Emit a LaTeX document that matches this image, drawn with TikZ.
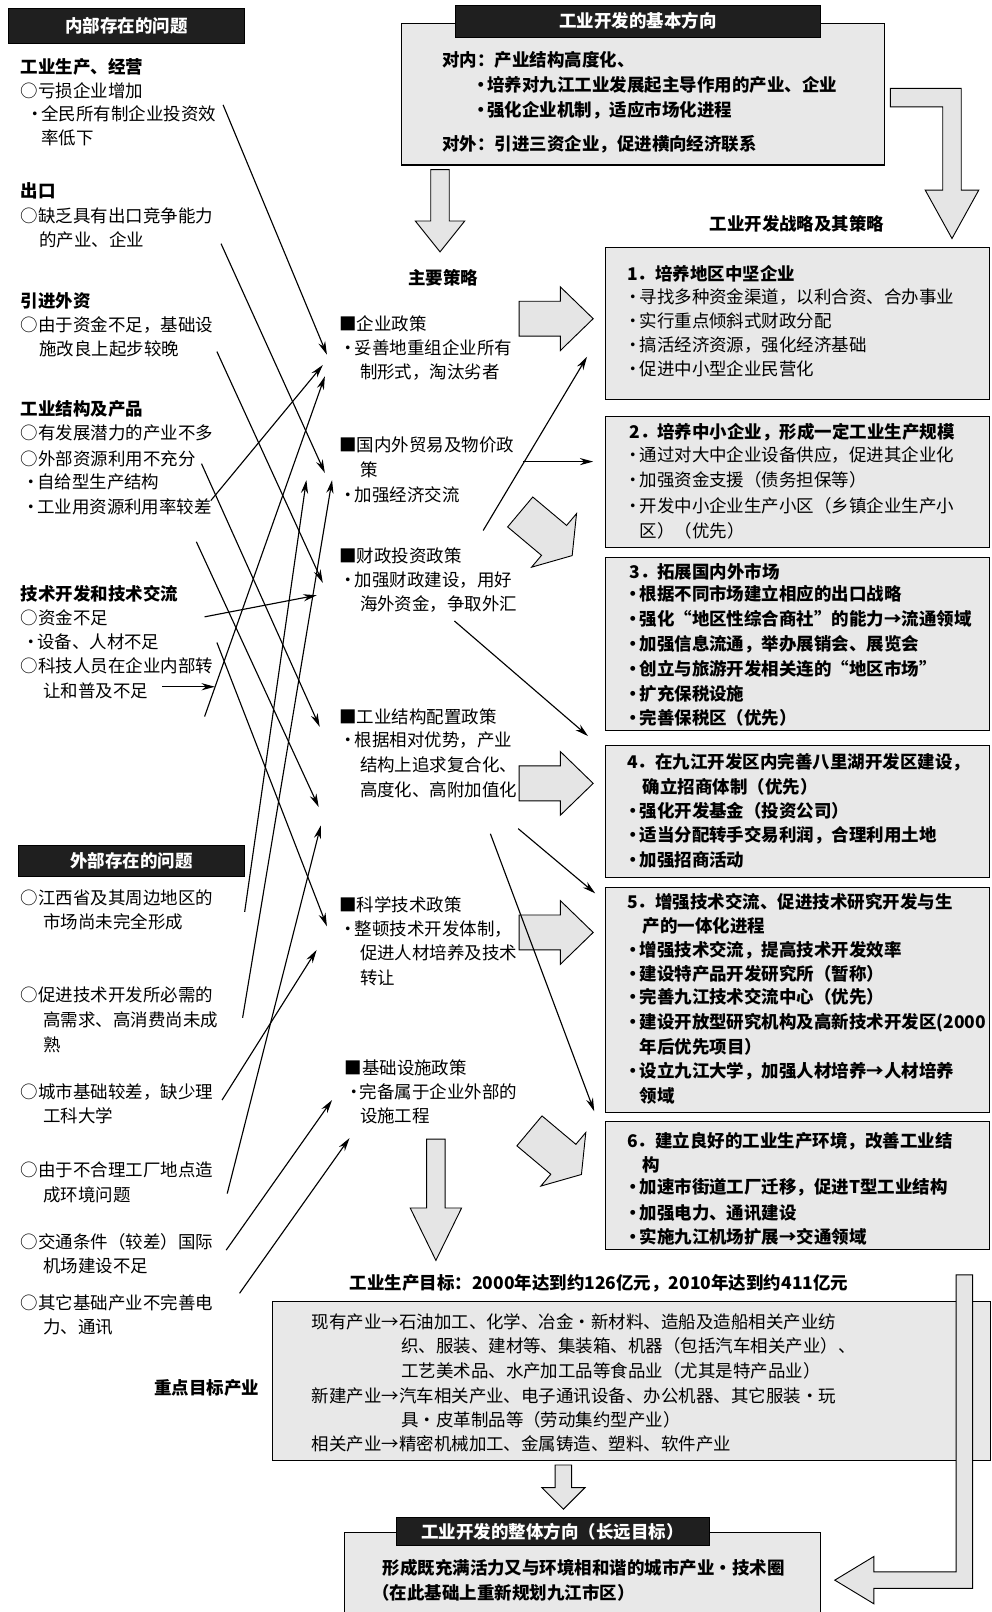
\documentclass[tikz,border=0pt]{standalone}
\usepackage{fontspec}
\newfontfamily\cjk{Noto Sans CJK SC}
\usetikzlibrary{arrows.meta}
\newcommand\bul{\makebox[0.7em][c]{・}}
\newcommand\blockarrow[7]{\draw[blk, shift={(#1,#2)}, rotate=#3] (0,-#6) -- (#5,-#6) -- (#5,-#7) -- (#4,0) -- (#5,#7) -- (#5,#6) -- (0,#6) -- cycle;}
\tikzset{
 txt/.style={anchor=west, inner sep=0pt, font=\cjk\fontsize{17}{20}\selectfont},
 btxt/.style={txt, font=\cjk\bfseries\fontsize{17}{20}\selectfont},
 hdr/.style={fill=black!88, draw=black, text=white, inner sep=0pt, font=\cjk\bfseries\fontsize{17}{20}\selectfont},
 panel/.style={draw=black, line width=1pt, fill=black!9, inner sep=0pt},
 blk/.style={draw=black, line width=0.9pt, fill=black!10, line join=miter},
 con/.style={line width=1.1pt, -{Stealth[length=13pt,width=7pt]}},
 ln/.style={line width=1.1pt}
}
\begin{document}
\begin{tikzpicture}[x=1pt,y=-1pt]
\useasboundingbox (0,0) rectangle (964,1568);
\fill[white] (0,0) rectangle (964,1568);

% ---------------- left column: internal problems
\node[hdr, minimum width=230pt, minimum height=34pt] (hIn) at (123,25) {内部存在的问题};
\node[btxt] (p1h) at (20,65) {工业生产、经营};
\node[txt] (p1a) at (20,88) {○亏损企业增加};
\node[txt] (p1b) at (28,111) {\bul 全民所有制企业投资效};
\node[txt] (p1c) at (40,134) {率低下};
\node[btxt] (p2h) at (20,186) {出口};
\node[txt] (p2a) at (20,210) {○缺乏具有出口竞争能力};
\node[txt] (p2b) at (38,233) {的产业、企业};
\node[btxt] (p3h) at (20,293) {引进外资};
\node[txt] (p3a) at (20,316) {○由于资金不足，基础设};
\node[txt] (p3b) at (38,339) {施改良上起步较晚};
\node[btxt] (p4h) at (20,398) {工业结构及产品};
\node[txt] (p4a) at (20,421) {○有发展潜力的产业不多};
\node[txt] (p4b) at (20,446) {○外部资源利用不充分};
\node[txt] (p4c) at (24,469) {\bul 自给型生产结构};
\node[txt] (p4d) at (24,493) {\bul 工业用资源利用率较差};
\node[btxt] (p5h) at (20,578) {技术开发和技术交流};
\node[txt] (p5a) at (20,601) {○资金不足};
\node[txt] (p5b) at (24,624) {\bul 设备、人材不足};
\node[txt] (p5c) at (20,648) {○科技人员在企业内部转};
\node[txt] (p5d) at (42,672) {让和普及不足};

% ---------------- left column: external problems
\node[hdr, minimum width=220pt, minimum height=30pt] (hOut) at (128,837) {外部存在的问题};
\node[txt] (q1a) at (20,873) {○江西省及其周边地区的};
\node[txt] (q1b) at (42,897) {市场尚未完全形成};
\node[txt] (q2a) at (20,968) {○促进技术开发所必需的};
\node[txt] (q2b) at (42,992) {高需求、高消费尚未成};
\node[txt] (q2c) at (42,1016) {熟};
\node[txt] (q3a) at (20,1062) {○城市基础较差，缺少理};
\node[txt] (q3b) at (42,1085) {工科大学};
\node[txt] (q4a) at (20,1138) {○由于不合理工厂地点造};
\node[txt] (q4b) at (42,1162) {成环境问题};
\node[txt] (q5a) at (20,1208) {○交通条件（较差）国际};
\node[txt] (q5b) at (42,1231) {机场建设不足};
\node[txt] (q6a) at (20,1267) {○其它基础产业不完善电};
\node[txt] (q6b) at (42,1291) {力、通讯};

% ---------------- top box
\node[panel, anchor=north west, minimum width=470pt, minimum height=138pt] (topbox) at (390,22) {};
\node[hdr, minimum width=355pt, minimum height=31pt] (hTop) at (620.5,20.5) {工业开发的基本方向};
\node[btxt] (t1) at (430,58) {对内：产业结构高度化、};
\node[btxt] (t2) at (462,83) {\bul 培养对九江工业发展起主导作用的产业、企业};
\node[btxt] (t3) at (462,107) {\bul 强化企业机制，适应市场化进程};
\node[btxt] (t4) at (430,140) {对外：引进三资企业，促进横向经济联系};

\node[btxt] (lblR) at (690,218) {工业开发战略及其策略};
\node[btxt] (lblM) at (397,270) {主要策略};

% ---------------- middle column: strategies
\node[txt] (s1a) at (330,315) {■企业政策};
\node[txt] (s1b) at (333,338) {\bul 妥善地重组企业所有};
\node[txt] (s1c) at (350,362) {制形式，淘汰劣者};
\node[txt] (s2a) at (330,433) {■国内外贸易及物价政};
\node[txt] (s2b) at (350,457) {策};
\node[txt] (s2c) at (333,481) {\bul 加强经济交流};
\node[txt] (s3a) at (330,541) {■财政投资政策};
\node[txt] (s3b) at (333,564) {\bul 加强财政建设，用好};
\node[txt] (s3c) at (350,588) {海外资金，争取外汇};
\node[txt] (s4a) at (330,697) {■工业结构配置政策};
\node[txt] (s4b) at (333,720) {\bul 根据相对优势，产业};
\node[txt] (s4c) at (350,744) {结构上追求复合化、};
\node[txt] (s4d) at (350,768) {高度化、高附加值化};
\node[txt] (s5a) at (330,880) {■科学技术政策};
\node[txt] (s5b) at (333,904) {\bul 整顿技术开发体制，};
\node[txt] (s5c) at (350,927) {促进人材培养及技术};
\node[txt] (s5d) at (350,951) {转让};
\node[txt] (s6a) at (335,1039) {■基础设施政策};
\node[txt] (s6b) at (338,1062) {\bul 完备属于企业外部的};
\node[txt] (s6c) at (350,1085) {设施工程};

% ---------------- right column: strategy boxes
\node[panel, anchor=north west, minimum width=374pt, minimum height=148pt] (box1) at (588,240) {};
\node[btxt] (r1t) at (610,266) {1．培养地区中坚企业};
\node[txt] (r1a) at (610,289) {\bul 寻找多种资金渠道，以利合资、合办事业};
\node[txt] (r1b) at (610,312) {\bul 实行重点倾斜式财政分配};
\node[txt] (r1c) at (610,336) {\bul 搞活经济资源，强化经济基础};
\node[txt] (r1d) at (610,359) {\bul 促进中小型企业民营化};

\node[panel, anchor=north west, minimum width=374pt, minimum height=127pt] (box2) at (588,405) {};
\node[btxt] (r2t) at (612,420) {2．培养中小企业，形成一定工业生产规模};
\node[txt] (r2a) at (610,443) {\bul 通过对大中企业设备供应，促进其企业化};
\node[txt] (r2b) at (610,467) {\bul 加强资金支援（债务担保等）};
\node[txt] (r2c) at (610,492) {\bul 开发中小企业生产小区（乡镇企业生产小};
\node[txt] (r2d) at (622,516) {区）（优先）};

\node[panel, anchor=north west, minimum width=374pt, minimum height=168pt] (box3) at (588,542) {};
\node[btxt] (r3t) at (612,556) {3．拓展国内外市场};
\node[btxt] (r3a) at (610,578) {\bul 根据不同市场建立相应的出口战略};
\node[btxt] (r3b) at (610,602) {\bul 强化“地区性综合商社”的能力→流通领域};
\node[btxt] (r3c) at (610,627) {\bul 加强信息流通，举办展销会、展览会};
\node[btxt] (r3d) at (610,651) {\bul 创立与旅游开发相关连的“地区市场”};
\node[btxt] (r3e) at (610,675) {\bul 扩充保税设施};
\node[btxt] (r3f) at (610,698) {\bul 完善保税区（优先）};

\node[panel, anchor=north west, minimum width=374pt, minimum height=128pt] (box4) at (588,725) {};
\node[btxt] (r4t) at (610,741) {4．在九江开发区内完善八里湖开发区建设，};
\node[btxt] (r4u) at (625,765) {确立招商体制（优先）};
\node[btxt] (r4a) at (610,789) {\bul 强化开发基金（投资公司）};
\node[btxt] (r4b) at (610,812) {\bul 适当分配转手交易利润，合理利用土地};
\node[btxt] (r4c) at (610,836) {\bul 加强招商活动};

\node[panel, anchor=north west, minimum width=374pt, minimum height=219pt] (box5) at (588,863) {};
\node[btxt] (r5t) at (610,877) {5．增强技术交流、促进技术研究开发与生};
\node[btxt] (r5u) at (625,901) {产的一体化进程};
\node[btxt] (r5a) at (610,924) {\bul 增强技术交流，提高技术开发效率};
\node[btxt] (r5b) at (610,947) {\bul 建设特产品开发研究所（暂称）};
\node[btxt] (r5c) at (610,970) {\bul 完善九江技术交流中心（优先）};
\node[btxt] (r5d) at (610,995) {\bul 建设开放型研究机构及高新技术开发区(2000};
\node[btxt] (r5e) at (622,1018) {年后优先项目）};
\node[btxt] (r5f) at (610,1042) {\bul 设立九江大学，加强人材培养→人材培养};
\node[btxt] (r5g) at (622,1066) {领域};

\node[panel, anchor=north west, minimum width=374pt, minimum height=125pt] (box6) at (588,1090) {};
\node[btxt] (r6t) at (610,1110) {6．建立良好的工业生产环境，改善工业结};
\node[btxt] (r6u) at (625,1133) {构};
\node[btxt] (r6a) at (610,1155) {\bul 加速市街道工厂迁移，促进T型工业结构};
\node[btxt] (r6b) at (610,1180) {\bul 加强电力、通讯建设};
\node[btxt] (r6c) at (610,1203) {\bul 实施九江机场扩展→交通领域};

% ---------------- bottom
\node[btxt] (goal) at (340,1248) {工业生产目标：2000年达到约126亿元，2010年达到约411亿元};
\node[panel, anchor=north west, minimum width=698pt, minimum height=155pt] (tbox) at (265,1265) {};
\node[txt] (b1) at (303,1286) {现有产业→石油加工、化学、冶金・新材料、造船及造船相关产业纺};
\node[txt] (b2) at (390,1309) {织、服装、建材等、集装箱、机器（包括汽车相关产业）、};
\node[txt] (b3) at (390,1333) {工艺美术品、水产加工品等食品业（尤其是特产品业）};
\node[txt] (b4) at (303,1358) {新建产业→汽车相关产业、电子通讯设备、办公机器、其它服装・玩};
\node[txt] (b5) at (390,1381) {具・皮革制品等（劳动集约型产业）};
\node[txt] (b6) at (303,1404) {相关产业→精密机械加工、金属铸造、塑料、软件产业};
\node[btxt] (key) at (150,1350) {重点目标产业};

\node[panel, anchor=north west, minimum width=463pt, minimum height=90pt] (fbox) at (335,1490) {};
\node[hdr, minimum width=305pt, minimum height=27pt] (hEnd) at (537.5,1489.5) {工业开发的整体方向（长远目标）};
\node[btxt] (f1) at (372,1525) {形成既充满活力又与环境相和谐的城市产业・技术圈};
\node[btxt] (f2) at (362,1549) {（在此基础上重新规划九江市区）};

% ---------------- block arrows
\blockarrow{428}{165}{-90}{80}{50}{9}{24}
\draw[blk] (866,86) -- (935,86) -- (935,185) -- (952,185) -- (926,232) -- (900,185) -- (917,185) -- (917,104) -- (866,104) -- cycle;
\blockarrow{505}{310}{0}{72}{40}{17}{31}
\blockarrow{506}{498}{-40}{66}{43}{19}{34}
\blockarrow{505}{762}{0}{72}{40}{17}{31}
\blockarrow{505}{907}{0}{72}{40}{17}{31}
\blockarrow{515}{1100}{-40}{66}{43}{19}{34}
\blockarrow{424}{1108}{-90}{118}{67}{9}{25}
\blockarrow{548}{1425}{-90}{43}{22}{8}{21}
\draw[blk] (930,1240) -- (946,1240) -- (946,1545) -- (850,1545) -- (850,1560) -- (812,1537) -- (850,1514) -- (850,1529) -- (930,1529) -- cycle;

% ---------------- connector end points
\coordinate (a0) at (217,102);  \coordinate (a1) at (318,345);
\coordinate (b0) at (215,237);  \coordinate (b1) at (316,460);
\coordinate (c0) at (211,342);  \coordinate (c1) at (314,567);
\coordinate (d0) at (196,451);  \coordinate (d1) at (311,707);
\coordinate (e0) at (205,487);  \coordinate (e1) at (314,355);
\coordinate (g0) at (191,527);  \coordinate (g1) at (310,785);
\coordinate (z0) at (199,600);  \coordinate (z1) at (308,579);
\coordinate (h0) at (211,625);  \coordinate (h1) at (318,901);
\coordinate (k0) at (158,668);  \coordinate (k1) at (209,668);
\coordinate (i0) at (199,697);  \coordinate (i1) at (316,366);
\coordinate (j0) at (238,887);  \coordinate (j1) at (298,467);
\coordinate (jj0) at (236,990); \coordinate (jj1) at (323,467);
\coordinate (m0) at (216,1070); \coordinate (m1) at (308,924);
\coordinate (n0) at (221,1161); \coordinate (n1) at (312,803);
\coordinate (o0) at (220,1216); \coordinate (o1) at (323,1070);
\coordinate (pp0) at (233,1258); \coordinate (pp1) at (340,1107);
\coordinate (r10) at (470,516); \coordinate (r11) at (571,347);
\coordinate (r20) at (509,449); \coordinate (r21) at (577,449);
\coordinate (r30) at (442,604); \coordinate (r31) at (572,716);
\coordinate (r40) at (504,806); \coordinate (r41) at (579,869);
\coordinate (r50) at (477,811); \coordinate (r51) at (578,1081);

% ---------------- connectors
\draw[con] (a0) -- (a1);
\draw[con] (b0) -- (b1);
\draw[con] (c0) -- (c1);
\draw[con] (d0) -- (d1);
\draw[con] (e0) -- (e1);
\draw[con] (g0) -- (g1);
\draw[con] (z0) -- (z1);
\draw[con] (h0) -- (h1);
\draw[con] (k0) -- (k1);
\draw[con] (i0) -- (i1);
\draw[con] (j0) -- (j1);
\draw[con] (jj0) -- (jj1);
\draw[con] (m0) -- (m1);
\draw[con] (n0) -- (n1);
\draw[con] (o0) -- (o1);
\draw[con] (pp0) -- (pp1);
\draw[con] (r10) -- (r11);
\draw[con] (r20) -- (r21);
\draw[con] (r30) -- (r31);
\draw[con] (r40) -- (r41);
\draw[con] (r50) -- (r51);
\end{tikzpicture}
\end{document}
